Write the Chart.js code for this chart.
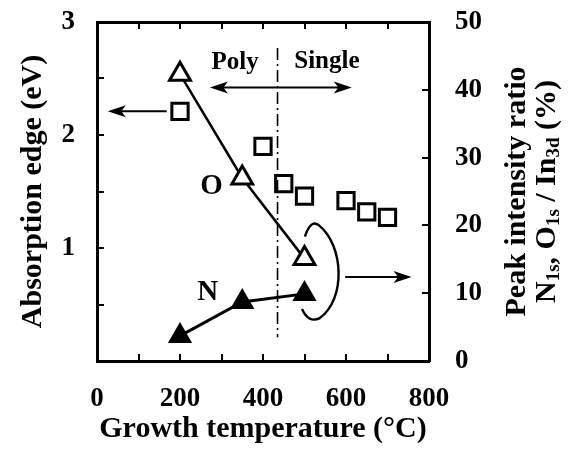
<!DOCTYPE html>
<html><head><meta charset="utf-8">
<script src="https://cdn.jsdelivr.net/npm/chart.js@4.4.0/dist/chart.umd.min.js"></script>
<style>html,body{margin:0;padding:0;background:#fff;overflow:hidden}</style>
</head><body>
<canvas id="c" width="575" height="462" style="display:block;width:575px;height:462px"></canvas>
<script>
// ---- data ----
const growthTempsEdge = [200, 400, 450, 500, 600, 650, 700];
const absorptionEdge  = [2.21, 1.90, 1.57, 1.46, 1.42, 1.32, 1.27];
const growthTempsRatio = [200, 350, 500];
const oxygenRatio   = [42.3, 27.0, 15.1];
const nitrogenRatio = [3.7, 8.7, 9.9];
const xTickLabels  = [0, 200, 400, 600, 800];
const yLeftTickLabels  = [1, 2, 3];
const yRightTickLabels = [0, 10, 20, 30, 40, 50];

const FONT = '"Liberation Serif", "Times New Roman", serif';
const pts = (xs, ys) => xs.map((v, i) => ({x: v, y: ys[i]}));

function arrowHead(ctx, x, y, dir) {
  const L = 18, W = 6;
  ctx.beginPath();
  ctx.moveTo(x, y);
  ctx.lineTo(x - dir * L, y - W);
  ctx.lineTo(x - dir * L * 0.75, y);
  ctx.lineTo(x - dir * L, y + W);
  ctx.closePath();
  ctx.fill();
}

const annotations = {
  id: 'annotations',
  afterDatasetsDraw(chart) {
    const {ctx, scales: {x, y, y2}} = chart;
    const X = v => x.getPixelForValue(v), Y = v => y.getPixelForValue(v), Y2 = v => y2.getPixelForValue(v);
    ctx.save();
    ctx.strokeStyle = '#000'; ctx.fillStyle = '#000';
    // dash-dot boundary line
    ctx.lineWidth = 1.6; ctx.setLineDash([12, 4, 2, 4]);
    ctx.beginPath(); ctx.moveTo(X(435), Y(2.77)); ctx.lineTo(X(435), Y(0.21)); ctx.stroke();
    ctx.setLineDash([]);
    // Poly <-> Single double arrow
    ctx.lineWidth = 2;
    const ya = Y(2.42);
    ctx.beginPath(); ctx.moveTo(X(272) + 10, ya); ctx.lineTo(X(614) - 10, ya); ctx.stroke();
    arrowHead(ctx, X(272), ya, -1);
    arrowHead(ctx, X(614), ya, 1);
    // arrow to left axis
    const yl = Y(2.21);
    ctx.beginPath(); ctx.moveTo(X(168), yl); ctx.lineTo(X(26) + 10, yl); ctx.stroke();
    arrowHead(ctx, X(26), yl, -1);
    // arrow to right axis
    const yr = Y2(12.4);
    ctx.beginPath(); ctx.moveTo(X(598), yr); ctx.lineTo(X(758) - 10, yr); ctx.stroke();
    arrowHead(ctx, X(758), yr, 1);
    // enclosing curve
    ctx.lineWidth = 2.4;
    ctx.beginPath();
    ctx.moveTo(X(501), Y(1.10));
    ctx.quadraticCurveTo(X(515), Y(1.26), X(535), Y(1.20));
    ctx.bezierCurveTo(X(595), Y(1.02), X(600), Y(0.55), X(537), Y(0.38));
    ctx.quadraticCurveTo(X(510), Y(0.33), X(494), Y(0.46));
    ctx.stroke();
    // text labels
    ctx.textAlign = 'center'; ctx.textBaseline = 'middle';
    ctx.font = 'bold 25px ' + FONT;
    ctx.fillText('Poly', X(333), Y(2.64));
    ctx.fillText('Single', X(554), Y(2.65));
    ctx.font = 'bold 29px ' + FONT;
    ctx.fillText('O', X(276), Y(1.54));
    ctx.fillText('N', X(267), Y(0.61));
    // right axis title (two lines, with subscripts)
    const cy = (chart.chartArea.top + chart.chartArea.bottom) / 2;
    ctx.save();
    ctx.translate(517, cy); ctx.rotate(-Math.PI / 2);
    ctx.font = 'bold 30px ' + FONT;
    ctx.fillText('Peak intensity ratio', 0, 0);
    ctx.restore();
    const segs = [['N', 0], ['1s', 1], [', O', 0], ['1s', 1], [' / In', 0], ['3d', 1], [' (%)', 0]];
    const fMain = 'bold 30px ' + FONT, fSub = 'bold 19px ' + FONT;
    let total = 0;
    segs.forEach(s => { ctx.font = s[1] ? fSub : fMain; s.push(ctx.measureText(s[0]).width); total += s[2]; });
    ctx.save();
    ctx.translate(547, cy); ctx.rotate(-Math.PI / 2);
    ctx.textAlign = 'left';
    let pos = -total / 2;
    segs.forEach(s => { ctx.font = s[1] ? fSub : fMain; ctx.fillText(s[0], pos, s[1] ? 7 : 0); pos += s[2]; });
    ctx.restore();
    ctx.restore();
  }
};

const tickFont = {family: FONT, size: 27, weight: 'bold'};
const titleFont = {family: FONT, size: 30, weight: 'bold'};
const gridCommon = {drawOnChartArea: false, color: '#000', lineWidth: 2, tickLength: -7};
const borderCommon = {display: true, color: '#000', width: 3};

new Chart(document.getElementById('c'), {
  type: 'scatter',
  data: {
    datasets: [
      {label: 'Absorption edge', data: pts(growthTempsEdge, absorptionEdge), yAxisID: 'y',
       pointStyle: 'rect', pointRadius: 11.5, borderColor: '#000', backgroundColor: '#fff', borderWidth: 3, showLine: false},
      {label: 'O', data: pts(growthTempsRatio, oxygenRatio), yAxisID: 'y2', showLine: true,
       borderColor: '#000', borderWidth: 2.5, pointStyle: 'triangle', pointRadius: 12,
       pointBackgroundColor: '#fff', pointBorderColor: '#000', pointBorderWidth: 3},
      {label: 'N', data: pts(growthTempsRatio, nitrogenRatio), yAxisID: 'y2', showLine: true,
       borderColor: '#000', borderWidth: 3, pointStyle: 'triangle', pointRadius: 12,
       pointBackgroundColor: '#000', pointBorderColor: '#000', pointBorderWidth: 2}
    ]
  },
  options: {
    responsive: false, animation: false, devicePixelRatio: 1,
    layout: {padding: 0},
    plugins: {legend: {display: false}, tooltip: {enabled: false}},
    scales: {
      x: {type: 'linear', position: 'bottom', min: 0, max: 800,
          ticks: {stepSize: 100, autoSkip: false, maxRotation: 0, color: '#000', font: tickFont, padding: 29,
                  callback: v => xTickLabels.includes(v) ? String(v) : ''},
          grid: gridCommon, border: borderCommon,
          title: {display: true, text: 'Growth temperature (°C)', color: '#000', font: titleFont, padding: {top: 0, bottom: 15}},
          afterFit: s => { s.height = 101; s.paddingLeft = s.paddingRight = 0; }},
      x2: {type: 'linear', position: 'top', min: 0, max: 800,
          ticks: {stepSize: 100, display: false, autoSkip: false},
          grid: gridCommon, border: borderCommon,
          afterFit: s => { s.height = 22; s.paddingLeft = s.paddingRight = 0; }},
      y: {type: 'linear', position: 'left', min: 0, max: 3,
          ticks: {stepSize: 0.5, autoSkip: false, color: '#000', font: tickFont, padding: 29,
                  callback: v => yLeftTickLabels.includes(v) ? String(v) : ''},
          grid: gridCommon, border: borderCommon,
          title: {display: true, text: 'Absorption edge (eV)', color: '#000', font: titleFont, padding: {top: 15, bottom: 0}},
          afterFit: s => { s.width = 97; s.paddingTop = s.paddingBottom = 0; }},
      y2: {type: 'linear', position: 'right', min: 0, max: 50,
          ticks: {stepSize: 10, autoSkip: false, color: '#000', font: tickFont, padding: 33,
                  callback: v => yRightTickLabels.includes(v) ? String(v) : ''},
          grid: gridCommon, border: borderCommon,
          afterFit: s => { s.width = 146; s.paddingTop = s.paddingBottom = 0; }}
    }
  },
  plugins: [annotations]
});
</script>
</body></html>
